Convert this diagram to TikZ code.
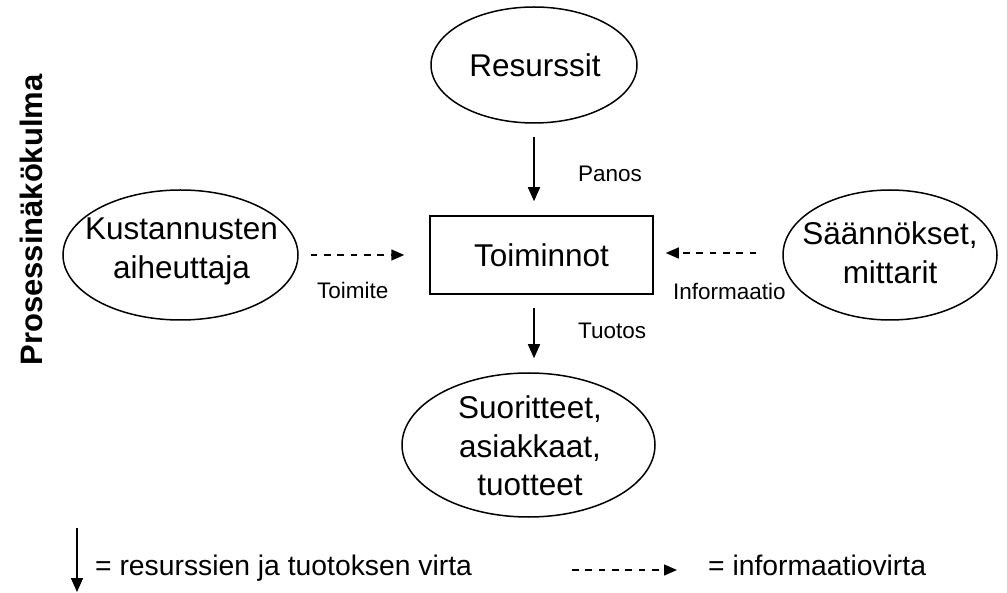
\documentclass[tikz,border=0pt]{standalone}
\usepackage{fontspec}
\setmainfont{Liberation Sans}
\usetikzlibrary{arrows.meta,shapes.geometric}

\begin{document}
\begin{tikzpicture}[x=1pt,y=-1pt,
  every node/.style={inner sep=0pt},
  bigtext/.style={font=\fontsize{31.5}{38.5}\selectfont, align=center},
  smalltext/.style={font=\fontsize{22.5}{27}\selectfont},
  legendtext/.style={font=\fontsize{28.3}{33}\selectfont},
  oval/.style={draw, ellipse, line width=1.5pt},
  actbox/.style={draw, rectangle, line width=1.5pt},
  flow/.style={line width=1.5pt, -{Triangle[length=14pt,width=12pt]}},
  info/.style={line width=1.5pt, dash pattern=on 6.7pt off 6.6pt,
               -{Triangle[length=13pt,width=11pt]}}
]
\useasboundingbox (0,0) rectangle (1007,593);

% outlines of the activity box and the four ovals
\node[actbox, minimum width=223pt, minimum height=78pt] (box) at (541.5,255) {};
\node[oval, minimum width=206pt, minimum height=116pt] (res) at (534,65) {};
\node[oval, minimum width=235pt, minimum height=130pt] (kust) at (180.5,255) {};
\node[oval, minimum width=214pt, minimum height=130pt] (saan) at (890,255) {};
\node[oval, minimum width=253pt, minimum height=144pt] (suor) at (528.5,445) {};

% their texts
\node[bigtext] (boxt) at (541.5,255.7) {Toiminnot};
\node[bigtext] (rest) at (535,65.5) {Resurssit};
\node[bigtext] (kustt) at (181.5,251.3) {Kustannusten\\aiheuttaja};
\node[bigtext] (saant) at (890,252.7) {Säännökset,\\mittarit};
\node[bigtext] (suort) at (530,446) {Suoritteet,\\asiakkaat,\\tuotteet};

% resource and output flows
\draw[flow] ([yshift=-13pt]res.south) -- ([yshift=14pt]res.south |- box.north);
\draw[flow] ([yshift=-13pt]res.south |- box.south) -- ([yshift=14pt]res.south |- suor.north);

% information flows
\draw[info] ([xshift=12pt]kust.east) -- ([xshift=-25pt]box.west |- kust.east);
\draw[info] ([xshift=-26pt,yshift=2pt]saan.west) -- ([xshift=12pt,yshift=2pt]box.east);

% flow labels
\node[smalltext, anchor=base west] (panos) at (578,182) {Panos};
\node[smalltext, anchor=base west] (tuotos) at (578,339) {Tuotos};
\node[smalltext, anchor=base west] (toimite) at (317,299) {Toimite};
\node[smalltext, anchor=base west] (inform) at (673,300) {Informaatio};

% side title
\node[font=\fontsize{31}{36}\selectfont\bfseries, rotate=90] (title) at (31,220) {Prosessinäkökulma};

% legend
\coordinate (lfa) at (77,528);
\coordinate (lfb) at (77,592);
\draw[flow] (lfa) -- (lfb);
\node[legendtext, anchor=base west] (lft) at (95,575) {= resurssien ja tuotoksen virta};
\coordinate (lia) at (572,570);
\coordinate (lib) at (677,570);
\draw[info] (lia) -- (lib);
\node[legendtext, anchor=base west] (lit) at (708,575) {= informaatiovirta};
\end{tikzpicture}
\end{document}
